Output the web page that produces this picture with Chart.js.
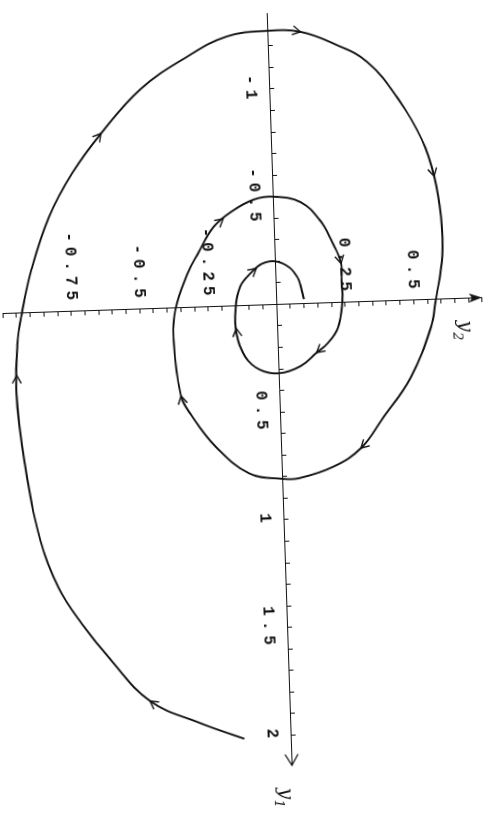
<!DOCTYPE html>
<html lang="en">
<head>
<meta charset="UTF-8">
<title>Phase portrait y1-y2</title>
<script src="https://cdn.jsdelivr.net/npm/chart.js"></script>
<style>
    html, body { margin: 0; padding: 0; background: #fff; overflow: hidden; }
    body { width: 493px; height: 829px; position: relative; }
    /* the scan is turned a quarter turn (a bit less), so draw flat and rotate */
    #wrap { position: absolute; left: -168px; top: 168px; width: 829px; height: 493px; transform: rotate(88.1deg); }
    canvas { display: block; }
</style>
</head>
<body>
<div id="wrap"><canvas id="phase" width="829" height="493"></canvas></div>
<script>
// trajectory (starts at y1 = 2, spirals in)
const y1Vals = [2.01, 1.93, 1.82, 1.62, 1.45, 1.28, 1.06, 0.68, 0.37, 0.14,
    0.00, -0.20, -0.44, -0.64, -0.82, -1.02, -1.16, -1.25, -1.27, -1.26,
    -1.20, -1.11, -0.93, -0.74, -0.57, -0.38, -0.20, 0.01, 0.13, 0.36,
    0.55, 0.68, 0.76, 0.81, 0.81, 0.78, 0.65, 0.49, 0.41, 0.16,
    0.01, -0.16, -0.25, -0.37, -0.44, -0.49, -0.50, -0.47, -0.38, -0.28,
    -0.18, -0.10, 0.00, 0.12, 0.19, 0.23, 0.29, 0.32, 0.30, 0.24,
    0.13, 0.01, -0.09, -0.15, -0.19, -0.20, -0.17, -0.12, -0.08, -0.02];
const y2Vals = [-0.17, -0.33, -0.51, -0.65, -0.75, -0.83, -0.89, -0.94, -0.96, -0.95,
    -0.93, -0.89, -0.82, -0.73, -0.62, -0.47, -0.30, -0.15, 0.00, 0.12,
    0.24, 0.36, 0.47, 0.55, 0.59, 0.61, 0.61, 0.58, 0.56, 0.48,
    0.37, 0.29, 0.19, 0.06, 0.00, -0.12, -0.24, -0.33, -0.36, -0.38,
    -0.37, -0.32, -0.28, -0.22, -0.15, -0.07, 0.00, 0.10, 0.17, 0.21,
    0.24, 0.24, 0.24, 0.22, 0.18, 0.14, 0.08, 0.00, -0.07, -0.12,
    -0.15, -0.15, -0.13, -0.09, -0.05, 0.00, 0.05, 0.08, 0.09, 0.10];

// where the little direction arrows sit (index along the trajectory)
const arrowAt = [2, 8.35, 14, 19, 24, 31, 38, 43.5, 50, 55, 60.2, 63.5];

const y1Labels = [-1, -0.5, 0.5, 1, 1.5, 2];
const y2Labels = [-0.75, -0.5, -0.25, 0.25, 0.5];

const ink = '#111';
const tickFont = { family: '"Liberation Mono", monospace', size: 16, weight: 'bold' };

function onStep(v, step) {
    const k = v / step;
    return Math.abs(k - Math.round(k)) < 1e-6;
}
function labelFor(list) {
    return v => {
        const m = list.find(l => Math.abs(l - v) < 1e-6);
        return m === undefined ? '' : String(m);
    };
}
const noPad = s => { s.paddingLeft = s.paddingRight = s.paddingTop = s.paddingBottom = 0; };

// typewriter-like wide spacing, and keep the y2 labels off the axis line
const labelStyle = {
    id: 'labelStyle',
    beforeDraw(chart) {
        chart.ctx.letterSpacing = '5px';
        const items = chart.scales.y.getLabelItems(chart.chartArea);
        if (!items._nudged) {
            items.forEach(it => { it.options.translation[0] -= 6; });
            items._nudged = true;
        }
    }
};

// open arrowheads along the curve
const curveArrows = {
    id: 'curveArrows',
    afterDatasetsDraw(chart) {
        const pts = chart.getDatasetMeta(0).data;
        const at = f => {
            const i = Math.min(Math.floor(f), pts.length - 2);
            const t = f - i;
            return { x: pts[i].x + (pts[i + 1].x - pts[i].x) * t, y: pts[i].y + (pts[i + 1].y - pts[i].y) * t };
        };
        const ctx = chart.ctx;
        ctx.save();
        ctx.strokeStyle = ink;
        ctx.lineWidth = 1.4;
        arrowAt.forEach(f => {
            const p = at(f);
            const a = at(Math.max(f - 0.5, 0));
            const b = at(Math.min(f + 0.5, pts.length - 1));
            const ang = Math.atan2(b.y - a.y, b.x - a.x);
            const c = Math.cos(ang), s = Math.sin(ang);
            ctx.beginPath();
            ctx.moveTo(p.x - 8 * c + 4.5 * s, p.y - 8 * s - 4.5 * c);
            ctx.lineTo(p.x, p.y);
            ctx.lineTo(p.x - 8 * c - 4.5 * s, p.y - 8 * s + 4.5 * c);
            ctx.stroke();
        });
        ctx.restore();
    }
};

// axis arrow heads and the handwritten-looking axis names
const axisDeco = {
    id: 'axisDeco',
    afterDraw(chart) {
        const { ctx, chartArea, scales: { x, y } } = chart;
        const ox = x.getPixelForValue(0), oy = y.getPixelForValue(0);
        ctx.save();
        ctx.letterSpacing = '0px';
        ctx.strokeStyle = ink;
        ctx.fillStyle = ink;
        ctx.lineWidth = 1.3;
        const tx = chartArea.right;
        ctx.beginPath();
        ctx.moveTo(tx - 11, oy - 6.5);
        ctx.lineTo(tx, oy);
        ctx.lineTo(tx - 11, oy + 6.5);
        ctx.stroke();
        const ty = chartArea.top;
        ctx.beginPath();
        ctx.moveTo(ox, ty);
        ctx.lineTo(ox - 4.5, ty + 13);
        ctx.lineTo(ox, ty + 10);
        ctx.lineTo(ox + 4.5, ty + 13);
        ctx.closePath();
        ctx.fill();

        ctx.textAlign = 'center';
        ctx.textBaseline = 'middle';
        const name = (cx, cy, sub) => {
            ctx.font = 'italic 20px "DejaVu Serif"';
            ctx.fillText('y', cx - 4, cy - 2);
            ctx.font = 'italic 13px "DejaVu Serif"';
            ctx.fillText(sub, cx + 6, cy + 5);
        };
        name(tx + 32, oy + 10, '1');
        name(ox + 32, ty + 21, '2');
        ctx.restore();
    }
};

new Chart(document.getElementById('phase'), {
    type: 'scatter',
    data: {
        datasets: [{
            data: y1Vals.map((v, i) => ({ x: v, y: y2Vals[i] })),
            showLine: true,
            borderColor: ink,
            borderWidth: 1.9,
            pointRadius: 0,
            tension: 0.4,
            fill: false,
            clip: false
        }]
    },
    options: {
        responsive: false,
        animation: false,
        events: [],
        layout: { padding: { left: 14.5, right: 62.4, top: 7.2, bottom: 6.3 } },
        plugins: { legend: { display: false }, tooltip: { enabled: false } },
        scales: {
            x: {
                type: 'linear',
                min: -1.35,
                max: 2.14,
                position: { y: 0 },
                afterFit: noPad,
                border: { display: true, color: ink, width: 1 },
                grid: {
                    drawOnChartArea: false,
                    drawTicks: true,
                    tickLength: -5,
                    color: c => (c.tick && onStep(c.tick.value, 0.1)) ? ink : 'rgba(0,0,0,0)'
                },
                ticks: {
                    stepSize: 0.1,
                    autoSkip: false,
                    maxRotation: 0,
                    minRotation: 0,
                    padding: 15,
                    color: ink,
                    font: tickFont,
                    callback: labelFor(y1Labels)
                }
            },
            y: {
                type: 'linear',
                min: -1,
                max: 0.75,
                position: { x: 0 },
                afterFit: noPad,
                border: { display: true, color: ink, width: 1 },
                grid: {
                    drawOnChartArea: false,
                    drawTicks: true,
                    tickLength: -5,
                    color: c => (c.tick && onStep(c.tick.value, 0.05)) ? ink : 'rgba(0,0,0,0)'
                },
                ticks: {
                    stepSize: 0.05,
                    autoSkip: false,
                    padding: 8,
                    color: ink,
                    font: tickFont,
                    callback: labelFor(y2Labels)
                }
            }
        }
    },
    plugins: [labelStyle, curveArrows, axisDeco]
});
</script>
</body>
</html>
